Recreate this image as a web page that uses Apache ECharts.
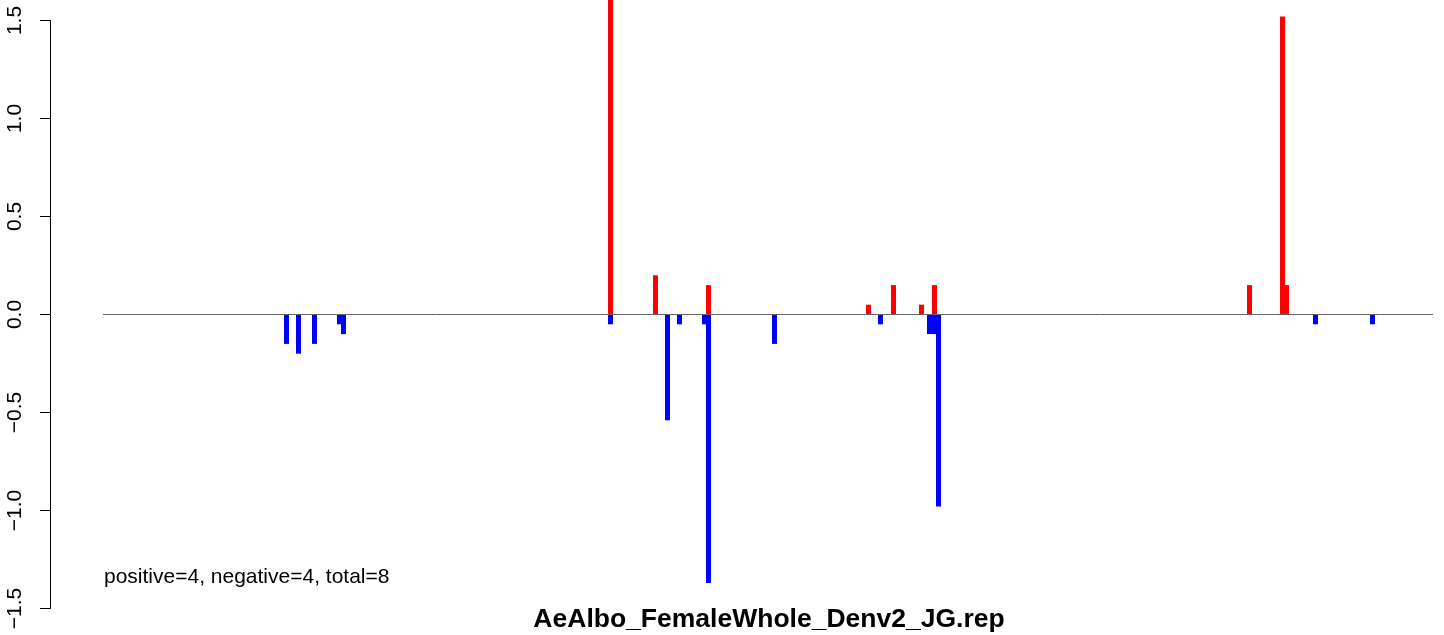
<!DOCTYPE html>
<html>
<head>
<meta charset="utf-8">
<script src="https://cdn.jsdelivr.net/npm/echarts@6/dist/echarts.min.js"></script>
<style>
html,body{margin:0;padding:0;background:#fff;}
#chart{width:1444px;height:635px;}
</style>
</head>
<body>
<div id="chart"></div>
<script>
// Positions along the (hidden) x axis and values
var negPositions = [236.5, 248.5, 264.5, 289.5, 293.5, 560.5, 617.5, 629.5, 654.5, 658.5, 724.5, 830.5, 879.5, 884.5, 888.5, 1265.5, 1322.5];
var negValues    = [-0.15, -0.2, -0.15, -0.05, -0.1, -0.05, -0.54, -0.05, -0.05, -1.37, -0.15, -0.05, -0.1, -0.1, -0.98, -0.05, -0.05];
var posPositions = [560.5, 605.5, 658.5, 818.5, 843.5, 871.5, 884.5, 1199.5, 1232.5, 1236.5];
var posValues    = [2.0, 0.2, 0.15, 0.05, 0.15, 0.05, 0.15, 0.15, 1.52, 0.15];
var zeroLineX = [53, 1383];
var yTicks = [-1.5, -1.0, -0.5, 0.0, 0.5, 1.0, 1.5];
var titleText = 'AeAlbo_FemaleWhole_Denv2_JG.rep';
var noteText = 'positive=4, negative=4, total=8';

var FONT = "'Liberation Sans', Arial, Helvetica, sans-serif";

function pairs(xs, ys) { return xs.map(function (x, i) { return [x, ys[i]]; }); }

var chart = echarts.init(document.getElementById('chart'), null, {renderer: 'canvas'});
chart.setOption({
  animation: false,
  backgroundColor: '#ffffff',
  grid: {left: 50, right: 11, top: 20.5, bottom: 26.5, containLabel: false},
  xAxis: {
    type: 'value', min: 0, max: 1383,
    show: false
  },
  yAxis: {
    type: 'value', min: yTicks[0], max: yTicks[yTicks.length - 1], interval: 0.5,
    axisLine: {show: true, lineStyle: {color: '#000', width: 1}},
    axisTick: {show: true, length: 10, lineStyle: {color: '#000', width: 1}},
    splitLine: {show: false},
    axisLabel: {
      rotate: 90, margin: 24, color: '#000', fontSize: 21, fontFamily: FONT,
      formatter: function (v) { return v.toFixed(1).replace('-', '\u2212'); }
    }
  },
  series: [
    {
      type: 'bar', name: 'neg', data: pairs(negPositions, negValues),
      barWidth: 5, barGap: '-100%', clip: false,
      itemStyle: {color: '#0000ff'}, z: 2
    },
    {
      type: 'bar', name: 'pos', data: pairs(posPositions, posValues),
      barWidth: 5, barGap: '-100%', clip: false,
      itemStyle: {color: '#ff0000'}, z: 2
    },
    {
      type: 'line', data: pairs(zeroLineX, [0, 0]), symbol: 'none',
      lineStyle: {color: '#666666', width: 1}, z: 3, silent: true
    }
  ],
  graphic: [
    {
      type: 'text', left: 104, top: 567,
      style: {text: noteText, fill: '#000', font: '21px ' + FONT}
    },
    {
      type: 'text', x: 769, y: 620,
      style: {text: titleText, fill: '#000', font: 'bold 26.5px ' + FONT, textAlign: 'center', textVerticalAlign: 'middle'}
    }
  ]
});
</script>
</body>
</html>
